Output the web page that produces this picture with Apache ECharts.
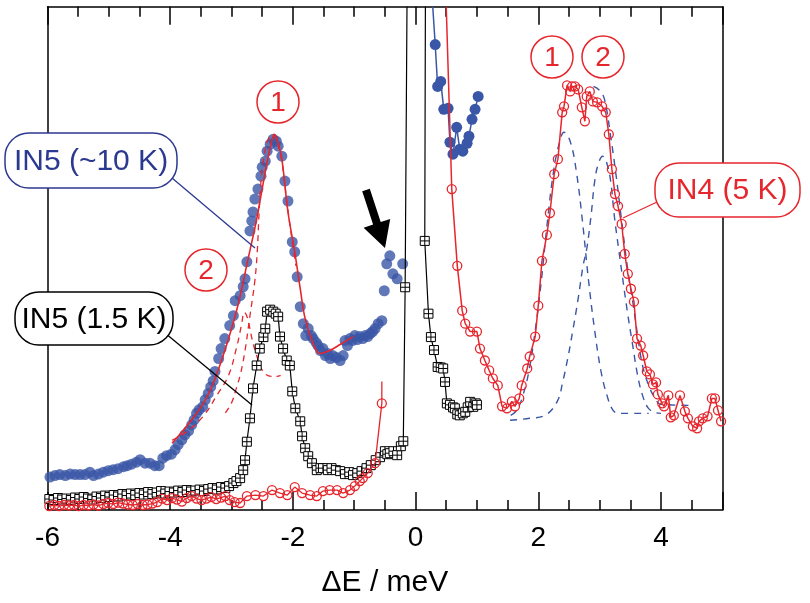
<!DOCTYPE html>
<html><head><meta charset="utf-8">
<script src="https://cdn.jsdelivr.net/npm/echarts/dist/echarts.min.js"></script>
<style>html,body{margin:0;padding:0;background:#fff}#c{width:810px;height:603px}</style>
</head><body><div id="c"></div>
<script>
// ---------- data (ΔE in meV, intensity in arbitrary units) ----------
const xTickLabels = [-6, -4, -2, 0, 2, 4];

// IN5 (~10 K), filled blue circles, below the elastic line
const in5WarmLow = [[-5.96,6.6],[-5.88,6.9],[-5.80,7.1],[-5.71,6.9],[-5.63,7.2],[-5.55,7.1],[-5.47,7.1],[-5.39,7.1],[-5.31,7.6],[-5.25,6.9],[-5.17,7.2],[-5.09,7.6],[-5.01,7.9],[-4.93,8.1],[-4.85,8.3],[-4.76,8.7],[-4.70,8.9],[-4.63,9.2],[-4.55,9.6],[-4.49,10.1],[-4.41,9.4],[-4.33,9.4],[-4.25,8.9],[-4.18,8.9],[-4.12,10.4],[-4.06,10.9],[-3.98,11.2],[-3.92,12.1],[-3.87,13.1],[-3.81,14.1],[-3.76,15.1],[-3.70,15.9],[-3.65,17.1],[-3.61,18.1],[-3.57,19.4],[-3.53,20.1],[-3.47,20.7],[-3.43,22.1],[-3.38,23.4],[-3.34,24.7],[-3.30,25.9],[-3.27,27.8],[-3.21,30.4],[-3.17,32.4],[-3.11,34.4],[-3.03,37.0],[-2.97,39.0],[-2.94,42.0],[-2.86,43.0],[-2.81,44.8],[-2.78,46.4],[-2.75,49.8],[-2.70,56.0],[-2.67,58.0],[-2.65,59.8],[-2.62,62.4],[-2.57,64.4],[-2.52,67.0],[-2.50,68.8],[-2.45,70.0],[-2.42,72.0],[-2.37,73.4],[-2.32,74.4],[-2.27,74.0],[-2.24,73.0],[-2.18,71.0],[-2.13,66.0],[-2.08,62.0],[-2.01,53.8],[-1.97,51.8],[-1.93,46.8],[-1.88,40.8],[-1.83,37.4],[-1.79,35.0],[-1.75,36.4],[-1.70,35.0],[-1.67,34.4],[-1.62,33.6],[-1.59,33.0],[-1.55,32.0],[-1.51,32.4],[-1.47,31.0],[-1.43,31.4],[-1.39,30.4],[-1.35,31.0],[-1.29,30.6],[-1.23,30.0],[-1.18,31.0],[-1.15,34.0],[-1.11,33.0],[-1.07,34.4],[-1.03,34.0],[-0.99,35.0],[-0.95,34.2],[-0.91,34.8],[-0.86,34.4],[-0.82,35.0],[-0.78,34.8],[-0.74,35.4],[-0.70,35.8],[-0.66,36.4],[-0.61,37.4],[-0.55,38.0],[-0.51,44.0],[-0.47,49.4],[-0.42,51.0],[-0.37,47.4],[-0.30,46.4],[-0.21,49.4]];
// IN5 (~10 K), above the elastic line (joined)
const in5WarmHigh = [[0.28,101],[0.32,93.4],[0.36,85],[0.41,86],[0.46,80.4],[0.53,80.6],[0.56,73.8],[0.61,71.4],[0.67,76.8],[0.72,72.4],[0.77,72],[0.84,73.6],[0.87,75],[0.92,78.4],[0.97,80.4],[1.02,83]];
// fit to IN5 (~10 K): total and the two components
const in5WarmFit = [[-3.97,13.4],[-3.72,17],[-3.46,21.4],[-3.30,25.4],[-3.11,32],[-2.91,40.4],[-2.73,50.4],[-2.59,58.4],[-2.50,64.5],[-2.42,69.8],[-2.35,73.8],[-2.30,75.4],[-2.25,74],[-2.18,70.4],[-2.08,59.8],[-1.97,51.8],[-1.88,44.4],[-1.80,38.4],[-1.67,33.4],[-1.56,31.4],[-1.40,32],[-1.23,33.2],[-1.02,34.8]];
const in5WarmPeak1 = [[-3.10,19.5],[-3.0,21.5],[-2.92,24.5],[-2.85,27.5],[-2.78,32],[-2.70,39],[-2.62,46],[-2.58,52],[-2.55,60],[-2.52,66],[-2.47,71],[-2.40,74.5],[-2.33,75.4],[-2.25,73.5],[-2.18,70],[-2.10,62],[-2.0,53],[-1.95,49]];
const in5WarmPeak2 = [[-3.97,14],[-3.7,16],[-3.45,19],[-3.24,23],[-3.05,27],[-2.92,32.5],[-2.84,37],[-2.79,39.7],[-2.74,38.5],[-2.66,34],[-2.59,31],[-2.52,28.5],[-2.44,27.2],[-2.35,26.8],[-2.26,26.8],[-2.20,27]];

// IN5 (1.5 K), open squares
const in5ColdLow = [[-5.97,2.2],[-5.90,2.0],[-5.83,2.4],[-5.76,2.1],[-5.69,2.3],[-5.62,2.0],[-5.55,2.5],[-5.48,2.2],[-5.41,2.6],[-5.34,2.3],[-5.27,2.1],[-5.20,2.7],[-5.13,2.4],[-5.06,2.9],[-4.99,2.6],[-4.92,3.0],[-4.85,2.7],[-4.78,3.2],[-4.71,2.9],[-4.64,3.3],[-4.57,3.0],[-4.50,3.4],[-4.43,3.1],[-4.36,3.6],[-4.29,3.2],[-4.22,3.5],[-4.15,3.8],[-4.08,3.3],[-4.01,3.7],[-3.94,3.5],[-3.87,3.9],[-3.80,3.6],[-3.73,4.0],[-3.66,3.7],[-3.59,3.9],[-3.52,4.1],[-3.45,3.8],[-3.38,4.2],[-3.31,4.4],[-3.24,4.1],[-3.17,4.6],[-3.10,4.4],[-3.04,4.8],[-2.97,5.4],[-2.92,5.8],[-2.86,6.4],[-2.81,8.0],[-2.78,10.0],[-2.75,13.7],[-2.70,18.4],[-2.65,24.4],[-2.59,29.0],[-2.54,32.4],[-2.48,34.7],[-2.45,36.4],[-2.42,39.8],[-2.37,40.2],[-2.32,39.8],[-2.28,39.4],[-2.24,38.8],[-2.21,34.8],[-2.16,32.4],[-2.10,30.0],[-2.05,29.0],[-2.01,23.8],[-1.96,20.4],[-1.88,17.8],[-1.85,14.8],[-1.80,12.4],[-1.75,10.8],[-1.69,9.4],[-1.61,8.0],[-1.55,8.4],[-1.51,8.4],[-1.43,8.0],[-1.37,8.4],[-1.30,8.0],[-1.23,7.8],[-1.15,7.2],[-1.08,7.6],[-1.02,7.0],[-0.95,7.4],[-0.88,7.8],[-0.80,8.4],[-0.73,9.0],[-0.65,10.0],[-0.58,10.6],[-0.50,11.8],[-0.46,11.2],[-0.42,11.4],[-0.36,11.8],[-0.30,11.0],[-0.24,12.8],[-0.20,13.8],[-0.17,44.7],[-0.14,101]];
const in5ColdHigh = [[0.16,101],[0.15,54],[0.21,39.4],[0.25,34.7],[0.30,32.1],[0.36,28.7],[0.41,28.6],[0.45,28.4],[0.48,25.7],[0.51,21.4],[0.56,21.1],[0.61,20.6],[0.64,20.4],[0.68,19.2],[0.72,19.0],[0.77,19.4],[0.81,19.7],[0.85,20.6],[0.89,21.7],[0.94,20.7],[0.98,21.4],[1.0,21.1]];

// IN4 (5 K), open red circles
const in4Low = [[-5.97,0.8],[-5.89,1.0],[-5.81,0.8],[-5.73,1.0],[-5.65,0.9],[-5.57,1.0],[-5.49,0.8],[-5.41,1.0],[-5.33,0.9],[-5.25,1.1],[-5.17,0.9],[-5.09,1.2],[-5.01,1.4],[-4.93,1.2],[-4.85,1.5],[-4.77,1.3],[-4.69,1.1],[-4.61,1.0],[-4.53,1.2],[-4.45,1.0],[-4.37,1.1],[-4.29,1.3],[-4.21,1.6],[-4.13,2.3],[-4.05,2.0],[-3.97,2.4],[-3.89,2.1],[-3.81,1.7],[-3.73,2.4],[-3.65,2.8],[-3.57,2.3],[-3.49,2.0],[-3.41,2.3],[-3.33,2.6],[-3.25,2.2],[-3.17,2.5],[-3.10,2.8],[-3.03,2.0],[-2.95,1.6],[-2.86,1.4],[-2.75,2.8],[-2.61,3.0],[-2.48,2.8],[-2.34,4.0],[-2.21,3.4],[-2.09,3.0],[-1.97,4.6],[-1.85,3.4],[-1.72,3.0],[-1.61,2.8],[-1.51,3.8],[-1.40,4.0],[-1.28,4.0],[-1.18,3.4],[-1.07,4.0],[-0.99,4.8],[-0.91,5.8],[-0.86,6.4],[-0.78,7.4],[-0.66,9.4],[-0.55,21.4]];
const in4LowLineEnd = [-0.55,25.8];
const in4High = [[0.59,64.4],[0.68,49],[0.76,40],[0.81,37.4],[0.89,35.8],[1.00,35.8],[1.05,32.4],[1.13,30],[1.20,28],[1.26,26.4],[1.34,25],[1.41,20.8],[1.49,20.4],[1.57,21.8],[1.62,20.8],[1.69,22.4],[1.73,25],[1.82,28.4],[1.86,30.8],[1.95,34.8],[2.00,41],[2.06,50],[2.14,55.2],[2.19,59.6],[2.26,67.4],[2.32,70.4],[2.39,79.8],[2.42,81],[2.47,85.2],[2.52,84],[2.55,85],[2.60,85],[2.65,84.4],[2.71,80.8],[2.76,78],[2.79,83],[2.84,84],[2.89,82],[2.96,81.8],[3.04,81],[3.10,79.8],[3.15,75.4],[3.20,68.4],[3.25,63.4],[3.30,61],[3.36,57.4],[3.41,51.4],[3.46,47.4],[3.51,44.4],[3.56,41.8],[3.61,34.4],[3.67,33],[3.71,31],[3.77,27.8],[3.82,27.2],[3.87,25.2],[3.92,25.6],[3.95,23.2],[4.02,21.4],[4.05,20.8],[4.12,23],[4.16,18.6],[4.21,19],[4.31,23],[4.39,19.8],[4.44,18.4],[4.52,16.8],[4.59,16.4],[4.62,17.8],[4.68,18.4],[4.76,18.8],[4.83,22.4],[4.88,22.4],[4.93,20],[4.98,17.8]];
const in4LineStart = [0.50,101];
// IN4 model components (blue dashed)
const in4Peak1 = [[1.55,19],[1.65,20],[1.75,23],[1.85,28],[1.95,36],[2.05,46],[2.15,58],[2.25,68],[2.35,74],[2.42,75.8],[2.52,74],[2.62,68],[2.72,58],[2.82,46],[2.92,36],[3.02,28],[3.12,23],[3.22,20],[3.32,19.4],[3.8,19.4]];
const in4Peak2 = [[1.54,18],[1.86,18.4],[2.11,19],[2.31,21.8],[2.40,25.8],[2.48,30.4],[2.56,35.8],[2.65,42.4],[2.73,49],[2.79,52.4],[2.86,59],[2.92,66],[2.98,69.5],[3.05,71],[3.12,69.5],[3.18,66],[3.24,59],[3.31,52.4],[3.37,47],[3.45,40],[3.54,33],[3.62,27],[3.70,23],[3.79,20.5],[3.90,19.6],[4.0,19.4]];
const in4Sum = [[2.9,85],[3.0,84.2],[3.08,82.4],[3.18,75],[3.27,67],[3.35,59],[3.45,49],[3.55,41],[3.62,35],[3.7,29],[3.8,25],[3.9,22.5],[4.0,21.2],[4.52,21]];

// ---------- chart ----------
const RED = '#e6262d', BLUE = '#3a56a6', NAVY = '#2b3990', FONT = 'Liberation Sans, Arial, sans-serif';
const chart = echarts.init(document.getElementById('c'), null, {renderer: 'canvas'});
const squareCross = 'path://M0,0L10,0L10,10L0,10Z M5,0L5,10 M0,5L10,5';
const noSym = p => ({value: p, symbol: 'none'});

const xCommon = {
  type: 'value', min: -6, max: 5, interval: 2,
  axisLine: {show: true, onZero: false, lineStyle: {color: '#000', width: 1.5}},
  axisTick: {show: true, inside: true, length: 18, lineStyle: {color: '#000', width: 1.5}},
  minorTick: {show: true, splitNumber: 4, length: 10, lineStyle: {color: '#000', width: 1.5}},
  splitLine: {show: false}, minorSplitLine: {show: false}
};
const yCommon = {
  type: 'value', min: 0, max: 101,
  axisLine: {show: true, onZero: false, lineStyle: {color: '#000', width: 1.5}},
  axisTick: {show: false}, axisLabel: {show: false}, splitLine: {show: false}
};

const option = {
  animation: false,
  backgroundColor: '#fff',
  grid: {left: 47.5, right: 87.7, top: 6.7, bottom: 91.3, containLabel: false},
  xAxis: [
    Object.assign({}, xCommon, {
      position: 'bottom',
      axisLabel: {show: true, fontSize: 28, color: '#000', fontFamily: FONT, margin: 14,
        formatter: v => xTickLabels.includes(v) ? String(v) : ''},
      name: 'ΔE / meV', nameLocation: 'middle', nameGap: 58,
      nameTextStyle: {fontSize: 30, color: '#000', fontFamily: FONT}
    }),
    Object.assign({}, xCommon, {position: 'top', axisLabel: {show: false}})
  ],
  yAxis: [
    Object.assign({}, yCommon, {position: 'left'}),
    Object.assign({}, yCommon, {position: 'right'})
  ],
  series: [
    {type: 'scatter', data: in5WarmLow, symbol: 'circle', symbolSize: 11, itemStyle: {color: BLUE}, z: 2},
    {type: 'line', data: [noSym(in5WarmHigh[0])].concat(in5WarmHigh.slice(1)), symbol: 'circle', symbolSize: 11,
      itemStyle: {color: BLUE}, lineStyle: {color: BLUE, width: 1.5}, z: 2},
    {type: 'line', data: in5WarmPeak1, symbol: 'none', smooth: 0.4, lineStyle: {color: RED, width: 1.3, type: [6, 5]}, z: 3},
    {type: 'line', data: in5WarmPeak2, symbol: 'none', smooth: 0.4, lineStyle: {color: RED, width: 1.3, type: [6, 5]}, z: 3},
    {type: 'line', data: in5WarmFit, symbol: 'none', smooth: 0.4, lineStyle: {color: RED, width: 1.6}, z: 3},
    {type: 'line', data: in5ColdLow.slice(0, -1).concat([noSym(in5ColdLow[in5ColdLow.length - 1])]),
      symbol: squareCross, symbolSize: 9, itemStyle: {color: '#fff', borderColor: '#000', borderWidth: 1},
      lineStyle: {color: '#000', width: 1.2}, z: 4},
    {type: 'line', data: [noSym(in5ColdHigh[0])].concat(in5ColdHigh.slice(1)),
      symbol: squareCross, symbolSize: 9, itemStyle: {color: '#fff', borderColor: '#000', borderWidth: 1},
      lineStyle: {color: '#000', width: 1.2}, z: 4},
    {type: 'line', data: in4Peak1, symbol: 'none', smooth: 0.4, lineStyle: {color: BLUE, width: 1.4, type: [7, 6]}, z: 5},
    {type: 'line', data: in4Peak2, symbol: 'none', smooth: 0.4, lineStyle: {color: BLUE, width: 1.4, type: [7, 6]}, z: 5},
    {type: 'line', data: in4Sum, symbol: 'none', smooth: 0.4, lineStyle: {color: BLUE, width: 1.4, type: [7, 6]}, z: 5},
    {type: 'line', data: in4Low.concat([noSym(in4LowLineEnd)]), symbol: 'circle', symbolSize: 9,
      itemStyle: {color: 'rgba(255,255,255,0)', borderColor: RED, borderWidth: 1.3},
      lineStyle: {color: RED, width: 1.3}, z: 6},
    {type: 'line', data: [noSym(in4LineStart)].concat(in4High), symbol: 'circle', symbolSize: 9,
      itemStyle: {color: 'rgba(255,255,255,0)', borderColor: RED, borderWidth: 1.3},
      lineStyle: {color: RED, width: 1.5}, z: 6}
  ]
};
chart.setOption(option);

// ---------- annotations ----------
function label(x, y, w, h, txt, col) {
  return [
    {type: 'rect', z: 100, shape: {x: x, y: y, width: w, height: h, r: 24},
      style: {fill: '#fff', stroke: col, lineWidth: 1.5}},
    {type: 'text', z: 101, style: {text: txt, x: x + w / 2, y: y + h / 2 + 1, fill: col,
      font: '30px ' + FONT, align: 'center', verticalAlign: 'middle', textAlign: 'center', textVerticalAlign: 'middle'}}
  ];
}
function circled(cx, cy, txt) {
  return [
    {type: 'circle', z: 100, shape: {cx: cx, cy: cy, r: 21}, style: {fill: '#fff', stroke: RED, lineWidth: 1.5}},
    {type: 'text', z: 101, style: {text: txt, x: cx, y: cy + 1, fill: RED, font: '28px ' + FONT,
      align: 'center', verticalAlign: 'middle', textAlign: 'center', textVerticalAlign: 'middle'}}
  ];
}
function leader(x1, y1, x2, y2, col) {
  return {type: 'line', z: 99, shape: {x1: x1, y1: y1, x2: x2, y2: y2}, style: {stroke: col, lineWidth: 1.3}};
}
const g = [];
g.push(leader(172, 178, 255, 248, NAVY));
g.push(...label(5, 133, 172, 55, 'IN5 (~10 K)', NAVY));
g.push(leader(165, 333, 252, 405, '#000'));
g.push(...label(15, 292, 158, 53, 'IN5 (1.5 K)', '#000'));
g.push(leader(657, 202, 623, 218, RED));
g.push(...label(655, 163, 145, 54, 'IN4 (5 K)', RED));
g.push(...circled(278, 102, '1'));
g.push(...circled(206, 270, '2'));
g.push(...circled(552, 57, '1'));
g.push(...circled(603, 57, '2'));
g.push({type: 'polygon', z: 100, shape: {points: [[369.8,188.8],[380.7,222.1],[390.2,219],[385,248],[363.6,227.7],[373.1,224.5],[362.2,191.2]]},
  style: {fill: '#000'}});
chart.setOption({graphic: g});
</script>
</body></html>
